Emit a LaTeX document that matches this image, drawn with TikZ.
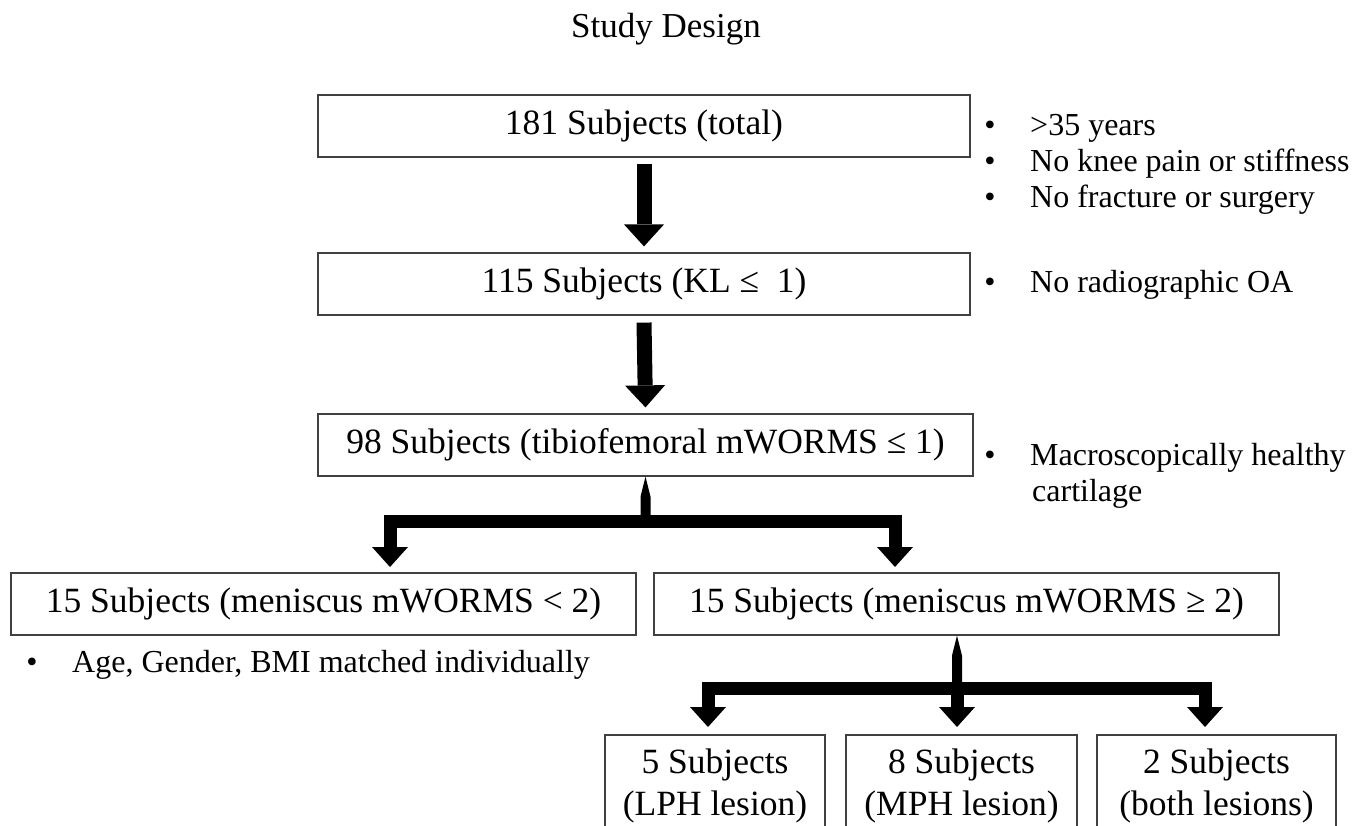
\documentclass[tikz,border=0pt]{standalone}
\usepackage{fontspec}
\setmainfont{Liberation Serif}
\usetikzlibrary{arrows.meta,calc}
\begin{document}
\begin{tikzpicture}[x=1pt,y=-1pt,
  box/.style={draw=black!75,line width=1.2pt,inner sep=0pt,minimum height=62pt,font=\fontsize{35.5}{42}\selectfont},
  note/.style={anchor=base west,inner sep=0pt,font=\fontsize{32}{38}\selectfont},
  dot/.style={anchor=base,inner sep=0pt,font=\fontsize{32}{38}\selectfont},
  bigarrow/.style={line width=15pt,-{Triangle[width=40pt,length=22pt,line width=0pt]}},
  brarrow/.style={line width=13pt,-{Triangle[width=36pt,length=20pt,line width=0pt]}},
]
\useasboundingbox (0,0) rectangle (1367,825);
\clip (0,0) rectangle (1367,825);

\node[anchor=base,inner sep=0pt,font=\fontsize{35}{42}\selectfont] (title) at (666,37) {Study Design};

\node[box,minimum width=652pt] (b1) at (644,126) {181 Subjects (total)};
\node[box,minimum width=652pt] (b2) at (644,284) {115 Subjects (KL ≤\ \ 1)};
\node[box,minimum width=655pt] (b3) at (645.5,445) {98 Subjects (tibiofemoral mWORMS ≤ 1)};
\node[box,minimum width=625pt] (b4) at (323.5,604) {15 Subjects (meniscus mWORMS < 2)};
\node[box,minimum width=625pt] (b5) at (966.5,604) {15 Subjects (meniscus mWORMS ≥ 2)};
\node[box,minimum width=220pt,minimum height=102pt,align=center] (b6) at (715,786) {5 Subjects\\(LPH lesion)};
\node[box,minimum width=231pt,minimum height=102pt,align=center] (b7) at (961.5,786) {8 Subjects\\(MPH lesion)};
\node[box,minimum width=239pt,minimum height=102pt,align=center] (b8) at (1216.5,786) {2 Subjects\\(both lesions)};

% notes
\node[dot] (d1) at (990,135) {•}; \node[note] (n1) at (1030,135) {>35 years};
\node[dot] (d2) at (990,171) {•}; \node[note] (n2) at (1030,171) {No knee pain or stiffness};
\node[dot] (d3) at (990,207) {•}; \node[note] (n3) at (1030,207) {No fracture or surgery};
\node[dot] (d4) at (990,292) {•}; \node[note] (n4) at (1030,292) {No radiographic OA};
\node[dot] (d5) at (990,465) {•}; \node[note] (n5) at (1030,465) {Macroscopically healthy};
\node[note] (n6) at (1032,501) {cartilage};
\node[dot] (d7) at (32,672) {•}; \node[note] (n7) at (72,672) {Age, Gender, BMI matched individually};

% straight arrows
\draw[bigarrow] ($(b1.south)+(0,6)$) -- ($(b2.north)+(0,-6)$);
\draw[bigarrow] ($(b2.south)+(0,7)$) -- ($(b3.north)+(0,-6)$);

% branch 1
\path (b3.south) ++(0,45) coordinate (j1);
\fill (b3.south) -- ++(-5,20) -- ($(j1)+(-5,0)$) -- ($(j1)+(5,0)$) -- ($(b3.south)+(5,20)$) -- cycle;
\coordinate (t4) at (390,567);
\coordinate (t5) at (895,567);
\draw[brarrow] (j1) -| (t4);
\draw[brarrow] (j1) -| (t5);

% branch 2
\path (b5.south) ++(-9.5,53) coordinate (j2);
\coordinate (s2) at ($(b5.south)+(-9.5,0)$);
\fill (s2) -- ++(-5,20) -- ($(j2)+(-5,0)$) -- ($(j2)+(5,0)$) -- ($(s2)+(5,20)$) -- cycle;
\coordinate (t6) at (708,727);
\coordinate (t7) at (957,727);
\coordinate (t8) at (1205,727);
\draw[brarrow] (j2) -| (t6);
\draw[brarrow] (j2) -- (t7);
\draw[brarrow] (j2) -| (t8);
\end{tikzpicture}
\end{document}
